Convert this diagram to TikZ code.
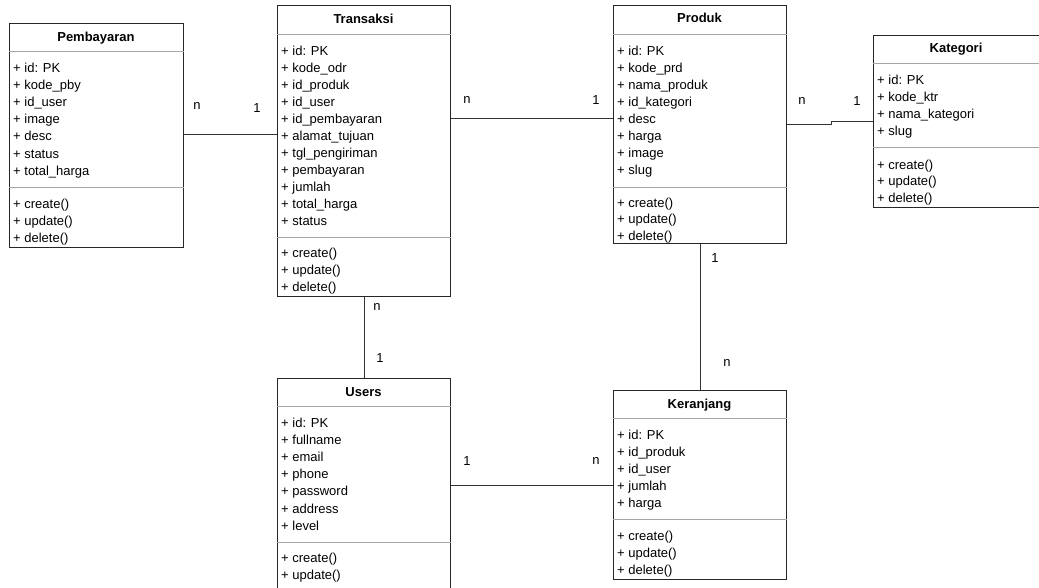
\documentclass[tikz,border=0pt]{standalone}
\usepackage{fontspec}
\setmainfont{Liberation Sans}
\begin{document}
\begin{tikzpicture}[x=1pt,y=-1pt,
  cls/.style={draw=black!85, line width=1.3pt, fill=white, inner sep=0pt, anchor=north west},
  sepl/.style={draw=black!35, line width=1pt},
  attr/.style={anchor=base west, inner sep=0pt, font=\fontsize{13}{15}\selectfont},
  ttl/.style={anchor=base, inner sep=0pt, font=\bfseries\fontsize{13}{15}\selectfont},
  conn/.style={draw=black!80, line width=1pt},
  card/.style={inner sep=0pt, font=\fontsize{13}{15}\selectfont}]
\useasboundingbox (0,0) rectangle (1039,587);

% ---------- Pembayaran ----------
\node[cls, minimum width=174pt, minimum height=224pt] (pby) at (9,23) {};
\draw[sepl] (pby.west |- 0,51) -- (pby.east |- 0,51);
\draw[sepl] (pby.west |- 0,187) -- (pby.east |- 0,187);
\node[ttl] (pbyT) at (96,41) {Pembayaran};
\foreach \t [count=\i from 0] in {+ id: PK, + kode\_pby, + id\_user, + image, + desc, + status, + total\_harga}
  \node[attr] (pbyA\i) at (13,72+17.2*\i) {\t};
\foreach \t [count=\i from 0] in {+ create(), + update(), + delete()}
  \node[attr] (pbyM\i) at (13,208+17*\i) {\t};

% ---------- Transaksi ----------
\node[cls, minimum width=173pt, minimum height=291pt] (trx) at (277,5) {};
\draw[sepl] (trx.west |- 0,34) -- (trx.east |- 0,34);
\draw[sepl] (trx.west |- 0,237) -- (trx.east |- 0,237);
\node[ttl] (trxT) at (363.5,23) {Transaksi};
\foreach \t [count=\i from 0] in {+ id: PK, + kode\_odr, + id\_produk, + id\_user, + id\_pembayaran, + alamat\_tujuan, + tgl\_pengiriman, + pembayaran, + jumlah, + total\_harga, + status}
  \node[attr] (trxA\i) at (281,55+17*\i) {\t};
\foreach \t [count=\i from 0] in {+ create(), + update(), + delete()}
  \node[attr] (trxM\i) at (281,257+17*\i) {\t};

% ---------- Produk ----------
\node[cls, minimum width=173pt, minimum height=238pt] (prd) at (613,5) {};
\draw[sepl] (prd.west |- 0,34) -- (prd.east |- 0,34);
\draw[sepl] (prd.west |- 0,187) -- (prd.east |- 0,187);
\node[ttl] (prdT) at (699.5,22) {Produk};
\foreach \t [count=\i from 0] in {+ id: PK, + kode\_prd, + nama\_produk, + id\_kategori, + desc, + harga, + image, + slug}
  \node[attr] (prdA\i) at (617,55+17*\i) {\t};
\foreach \t [count=\i from 0] in {+ create(), + update(), + delete()}
  \node[attr] (prdM\i) at (617,207+16.8*\i) {\t};

% ---------- Kategori ----------
\node[cls, minimum width=172pt, minimum height=172pt] (kat) at (873,35) {};
\draw[sepl] (kat.west |- 0,63) -- (kat.east |- 0,63);
\draw[sepl] (kat.west |- 0,147) -- (kat.east |- 0,147);
\node[ttl] (katT) at (956,52) {Kategori};
\foreach \t [count=\i from 0] in {+ id: PK, + kode\_ktr, + nama\_kategori, + slug}
  \node[attr] (katA\i) at (877,84+17*\i) {\t};
\foreach \t [count=\i from 0] in {+ create(), + update(), + delete()}
  \node[attr] (katM\i) at (877,169+16.7*\i) {\t};

% ---------- Users ----------
\node[cls, minimum width=173pt, minimum height=230pt] (usr) at (277,378) {};
\draw[sepl] (usr.west |- 0,406) -- (usr.east |- 0,406);
\draw[sepl] (usr.west |- 0,542) -- (usr.east |- 0,542);
\node[ttl] (usrT) at (363.5,396) {Users};
\foreach \t [count=\i from 0] in {+ id: PK, + fullname, + email, + phone, + password, + address, + level}
  \node[attr] (usrA\i) at (281,427+17.2*\i) {\t};
\foreach \t [count=\i from 0] in {+ create(), + update()}
  \node[attr] (usrM\i) at (281,562+17*\i) {\t};

% ---------- Keranjang ----------
\node[cls, minimum width=173pt, minimum height=189pt] (ker) at (613,390) {};
\draw[sepl] (ker.west |- 0,418) -- (ker.east |- 0,418);
\draw[sepl] (ker.west |- 0,519) -- (ker.east |- 0,519);
\node[ttl] (kerT) at (699.5,408) {Keranjang};
\foreach \t [count=\i from 0] in {+ id: PK, + id\_produk, + id\_user, + jumlah, + harga}
  \node[attr] (kerA\i) at (617,439+17.2*\i) {\t};
\foreach \t [count=\i from 0] in {+ create(), + update(), + delete()}
  \node[attr] (kerM\i) at (617,540+17*\i) {\t};

% ---------- Connectors ----------
\draw[conn] ([yshift=1pt]pby.east) -- ([yshift=1pt]pby.east -| trx.west);
\draw[conn] ([yshift=-113pt]trx.north east) -- ([yshift=-113pt]prd.north west);
\draw[conn] (prd.east) -- ++(44,0) |- (kat.west);
\draw[conn] (trx.south) -- (usr.north);
\draw[conn] (prd.south) -- (ker.north);
\draw[conn] (ker.west -| usr.east) -- (ker.west);

% ---------- Cardinalities ----------
\node[card] (c1) at (197,106) {n};
\node[card] (c2) at (257,108) {1};
\node[card] (c3) at (467,100) {n};
\node[card] (c4) at (596,100) {1};
\node[card] (c5) at (802,101) {n};
\node[card] (c6) at (857,101) {1};
\node[card] (c7) at (377,307) {n};
\node[card] (c8) at (380,358) {1};
\node[card] (c9) at (715,258) {1};
\node[card] (c10) at (727,363) {n};
\node[card] (c11) at (467,461) {1};
\node[card] (c12) at (596,461) {n};
\end{tikzpicture}
\end{document}
